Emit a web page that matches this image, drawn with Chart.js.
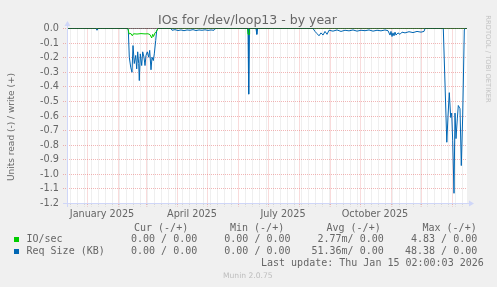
<!DOCTYPE html>
<html><head><meta charset="utf-8">
<script src="https://cdn.jsdelivr.net/npm/chart.js"></script>
<style>
html,body{margin:0;padding:0;background:#f0f0f0;}
#root{position:relative;width:497px;height:287px;overflow:hidden;background:#f0f0f0;font-family:'DejaVu Sans',sans-serif;color:#666;}
canvas{position:absolute;left:0;top:0;}
.t{position:absolute;white-space:pre;}
.m{font-family:'DejaVu Sans Mono',monospace;font-size:10px;line-height:12px;}
.sq{position:absolute;width:5px;height:5px;}
</style></head><body>
<div id="root">
<canvas id="c" width="497" height="287"></canvas>
<div class="t" style="left:-1px;width:497px;text-align:center;top:12px;font-size:12.5px;line-height:15px;">IOs for /dev/loop13 - by year</div>
<div class="t" style="left:-89px;width:200px;text-align:center;top:121px;font-size:9px;line-height:12px;transform:rotate(-90deg);">Units read (-) / write (+)</div>
<div class="t" style="left:428px;width:120px;text-align:center;top:53.5px;font-size:6.8px;line-height:10px;color:#c4c4c4;transform:rotate(90deg);">RRDTOOL / TOBI OETIKER</div>

<div class="t m" style="left:134px;top:221.5px;">Cur (-/+)</div>
<div class="t m" style="left:230px;top:221.5px;">Min (-/+)</div>
<div class="t m" style="left:326.5px;top:221.5px;">Avg (-/+)</div>
<div class="t m" style="left:422.5px;top:221.5px;">Max (-/+)</div>

<div class="sq" style="left:14px;top:237px;background:#00cc00;"></div>
<div class="t m" style="left:26.5px;top:233px;">IO/sec</div>
<div class="t m" style="left:131px;top:233px;">0.00 / 0.00</div>
<div class="t m" style="left:224.3px;top:233px;">0.00 / 0.00</div>
<div class="t m" style="left:317.5px;top:233px;">2.77m/ 0.00</div>
<div class="t m" style="left:411px;top:233px;">4.83 / 0.00</div>

<div class="sq" style="left:14px;top:249px;background:#0066b3;"></div>
<div class="t m" style="left:26.5px;top:244.5px;">Req Size (KB)</div>
<div class="t m" style="left:131px;top:244.5px;">0.00 / 0.00</div>
<div class="t m" style="left:224.3px;top:244.5px;">0.00 / 0.00</div>
<div class="t m" style="left:311.5px;top:244.5px;">51.36m/ 0.00</div>
<div class="t m" style="left:405px;top:244.5px;">48.38 / 0.00</div>

<div class="t m" style="left:261px;top:256.5px;">Last update: Thu Jan 15 02:00:03 2026</div>
<div class="t" style="left:223px;top:271px;font-size:7.6px;line-height:10px;color:#bdbdbd;">Munin 2.0.75</div>
</div>
<script>
// ---- data (x = days since 2024-12-12, y = value; read side is negative) ----
const START = Date.UTC(2024, 11, 12);
const DAY = 86400000;
const X_MIN = 0, X_MAX = 400;
const Y_MIN = -1.2, Y_MAX = 0;

const ioSecRead = [
  [0,0],[61,0],[62,-0.036],[64,-0.035],[65.3,-0.05],[66.5,-0.036],[70,-0.038],[74,-0.035],
  [78,-0.037],[81,-0.036],[83,-0.042],[84.7,-0.065],[85.7,-0.04],[86.5,-0.055],[88,-0.03],
  [89.5,-0.02],[91,0],[180.5,0],[181,-0.04],[182,-0.04],[182.6,0],[400,0]
];

const reqSizeRead = [
  [0,0],[29,0],[30,-0.012],[31,0],[60.5,0],[61.3,-0.01],[62.3,-0.197],[63.7,-0.265],[65,-0.30],
  [66,-0.117],[67.3,-0.24],[68.7,-0.185],[69.7,-0.277],[70.7,-0.16],[71.7,-0.24],[72.3,-0.357],
  [73.3,-0.174],[74.7,-0.254],[75.7,-0.16],[77,-0.197],[78,-0.254],[79,-0.185],[80.3,-0.16],
  [81.7,-0.197],[82.7,-0.15],[84,-0.283],[85,-0.197],[86.3,-0.22],[87.3,-0.174],[88.7,-0.082],
  [89.7,-0.014],[91,0],
  [104,0],[105,-0.012],[108,-0.008],[111,-0.014],[114,-0.01],[117,-0.015],[120,-0.01],[123,-0.012],
  [126,-0.008],[129,-0.014],[132,-0.01],[135,-0.012],[138,-0.009],[141,-0.013],[144,-0.01],
  [147,-0.012],[148.5,0],
  [181,0],[181.7,-0.45],[182.5,0],[189,0],[189.8,-0.04],[190.6,0],
  [246,0],[248,-0.02],[250,-0.035],[252,-0.05],[254,-0.03],[256,-0.045],[258,-0.02],[260,-0.04],
  [262,-0.012],[266,-0.018],[270,-0.01],[274,-0.02],[278,-0.012],[282,-0.016],[286,-0.01],
  [290,-0.018],[294,-0.012],[298,-0.015],[302,-0.01],[306,-0.018],[310,-0.012],[314,-0.016],
  [318,-0.01],[321,-0.015],[323,-0.045],[324,-0.02],[325,-0.055],[326,-0.03],[327,-0.05],
  [328,-0.025],[329,-0.045],[331,-0.03],[333,-0.04],[335,-0.025],[338,-0.03],[342,-0.022],
  [346,-0.028],[350,-0.02],[354,-0.025],[357,-0.02],[358,0],
  [376.3,0],[379.8,-0.78],[381,-0.6],[382.3,-0.44],[383.7,-0.61],[384.7,-0.58],[385.7,-0.77],
  [387,-1.13],[388,-0.58],[389,-0.755],[390.3,-0.62],[391.3,-0.528],[393,-0.55],[394.3,-0.94],
  [395.7,-0.6],[397.3,-0.01],[398,0],[400,0]
];

const zeroLine = [[X_MIN,0],[X_MAX,0]];

const xLabelText = ['January 2025','April 2025','July 2025','October 2025'];
const xLabelMonths = [[2025,0],[2025,3],[2025,6],[2025,9]];
const yTickValues = [0,-0.1,-0.2,-0.3,-0.4,-0.5,-0.6,-0.7,-0.8,-0.9,-1.0,-1.1,-1.2];

// ---- tick building ----
const dayOf = (y,m,d) => (Date.UTC(y,m,d) - START) / DAY;
const tickKind = new Map();
const labelOf = new Map();
for (let y = 2024, m = 11; ; ) {
  const d = dayOf(y, m, 1);
  if (d > X_MAX) break;
  if (d >= X_MIN) tickKind.set(d, 'M');
  m++; if (m > 11) { m = 0; y++; }
}
for (let d = dayOf(2024, 11, 15); d <= X_MAX; d += 7) { // Sundays
  if (d >= X_MIN && !tickKind.has(d)) tickKind.set(d, 'W');
}
xLabelMonths.forEach(([y,m], i) => {
  const d = dayOf(y, m, 1) + 15;
  tickKind.set(d, 'L');
  labelOf.set(d, xLabelText[i]);
});
const xTickValues = [...tickKind.keys()].sort((a,b)=>a-b);

const MAJ = 'rgba(225,80,80,0.42)';
const MIN = 'rgba(150,150,150,0.3)';
const AXIS = '#CFD6F8';
const gridColor = c => {
  if (!c.tick) return MAJ;
  const k = tickKind.get(c.tick.value);
  return k === 'M' ? MAJ : k === 'W' ? MIN : 'rgba(0,0,0,0)';
};

const framePlugin = {
  id: 'frame',
  beforeDraw(chart) {
    const {ctx, chartArea: a} = chart;
    ctx.save();
    ctx.fillStyle = '#ffffff';
    ctx.fillRect(a.left, Math.floor(a.top), a.right - a.left, Math.ceil(a.bottom) - Math.floor(a.top));
    ctx.restore();
  },
  afterDraw(chart) {
    const {ctx, chartArea: a} = chart;
    const xo = Math.round(a.left), yo = Math.floor(a.bottom), xe = Math.round(a.right), yt = Math.floor(a.top);
    ctx.save();
    ctx.strokeStyle = AXIS; ctx.fillStyle = AXIS; ctx.lineWidth = 1;
    ctx.beginPath();
    ctx.moveTo(xo - 4, yo + 0.5); ctx.lineTo(xe + 4, yo + 0.5);
    ctx.moveTo(xo + 0.5, yo + 4); ctx.lineTo(xo + 0.5, yt - 4);
    ctx.stroke();
    ctx.beginPath();
    ctx.moveTo(xe + 2, yo + 0.5 - 3); ctx.lineTo(xe + 2, yo + 0.5 + 3); ctx.lineTo(xe + 7, yo + 0.5); ctx.closePath();
    ctx.fill();
    ctx.beginPath();
    ctx.moveTo(xo + 0.5 - 3, yt - 2); ctx.lineTo(xo + 0.5 + 3, yt - 2); ctx.lineTo(xo + 0.5, yt - 7); ctx.closePath();
    ctx.fill();
    ctx.restore();
  }
};

const toPts = arr => arr.map(([x,y]) => ({x, y}));

Chart.defaults.font.family = "'DejaVu Sans', sans-serif";
new Chart(document.getElementById('c'), {
  type: 'line',
  data: {
    datasets: [
      {label: 'zero', data: toPts(zeroLine), borderColor: '#000000', borderWidth: 1, order: 0},
      {label: 'IO/sec', data: toPts(ioSecRead), borderColor: '#00cc00', borderWidth: 1, order: 1},
      {label: 'Req Size (KB)', data: toPts(reqSizeRead), borderColor: '#0066b3', borderWidth: 1, order: 2}
    ]
  },
  options: {
    responsive: false,
    animation: false,
    devicePixelRatio: 1,
    layout: {padding: {left: 0, top: 28.5, right: 30, bottom: 63.5}},
    elements: {point: {radius: 0}, line: {tension: 0}},
    plugins: {legend: {display: false}, tooltip: {enabled: false}, title: {display: false}},
    scales: {
      x: {
        type: 'linear', min: X_MIN, max: X_MAX,
        afterBuildTicks: s => { s.ticks = xTickValues.map(v => ({value: v})); },
        afterFit: s => { s.height = 20; },
        border: {display: false, dash: [1,1]},
        grid: {color: gridColor, tickColor: gridColor, lineWidth: 1, drawTicks: true, tickLength: 3, tickBorderDash: [1,1]},
        ticks: {autoSkip: false, maxRotation: 0, minRotation: 0, padding: 2.5, color: '#666666',
                font: {size: 9.7}, callback: v => labelOf.get(v) || ''}
      },
      y: {
        type: 'linear', min: Y_MIN, max: Y_MAX,
        afterBuildTicks: s => { s.ticks = yTickValues.map(v => ({value: v})); },
        afterFit: s => { s.width = 67; },
        border: {display: false, dash: [1,1]},
        grid: {color: MAJ, tickColor: MAJ, lineWidth: 1, drawTicks: true, tickLength: 4, tickBorderDash: [1,1]},
        ticks: {autoSkip: false, padding: 4, color: '#666666', font: {size: 9.7},
                callback: v => (Math.abs(v) < 1e-9 ? '0.0' : Number(v).toFixed(1))}
      }
    }
  },
  plugins: [framePlugin]
});
</script>
</body></html>
